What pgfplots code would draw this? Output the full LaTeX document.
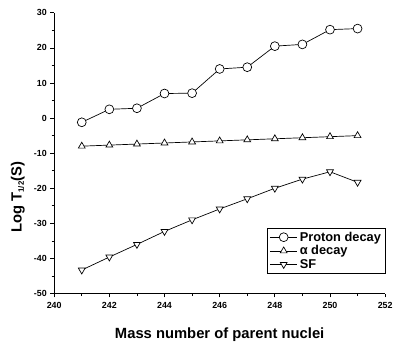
\documentclass[border=0pt]{standalone}
\usepackage{pgfplots}
\pgfplotsset{compat=1.18}
\usepackage{fontspec}
\setmainfont{Liberation Sans}
\begin{document}
\begin{tikzpicture}
\begin{axis}[
  scale only axis,
  width=336pt, height=285pt,
  xmin=240, xmax=252, ymin=-50, ymax=30,
  axis x line*=bottom, axis y line*=left,
  axis line style={line width=0.8pt, -},
  xtick={240,242,...,252}, minor xtick={241,243,...,251},
  ytick={-50,-40,...,30}, minor ytick={-45,-35,...,25},
  tick align=outside, tick style={black, line width=0.8pt},
  major tick length=4pt, minor tick length=2.5pt,
  /pgf/number format/assume math mode=true,
  /pgf/number format/1000 sep={},
  tick label style={font=\bfseries\fontsize{9}{10}\selectfont},
  xticklabel style={yshift=-1pt},
  xlabel={\bfseries\fontsize{15}{17}\selectfont Mass number of parent nuclei},
  ylabel={\bfseries\fontsize{15}{17}\selectfont Log T\textsubscript{\fontsize{8}{9}\selectfont 1/2}(S)},
  xlabel style={yshift=-13pt},
  ylabel style={at={(axis description cs:-0.078,0.47)}, anchor=south, xshift=-36pt},
  legend style={at={(1,0.07)}, anchor=south east, draw=black, line width=0.6pt,
    font=\bfseries\fontsize{13}{14}\selectfont, row sep=-1pt, inner sep=2pt},
  legend cell align=left,
  legend image code/.code={
    \draw[mark repeat=2,mark phase=2] plot coordinates {(0pt,0pt) (14pt,0pt) (28pt,0pt)};
  },
]
\addplot[black, line width=0.7pt, mark=*, mark size=4.5pt, mark options={fill=white, draw=black, solid}] coordinates {
(241,-1.2) (242,2.5) (243,2.8) (244,7.0) (245,7.1) (246,14.0) (247,14.5) (248,20.5) (249,21.0) (250,25.2) (251,25.5)};
\addlegendentry{Proton decay}
\addplot[black, line width=0.7pt, mark=triangle*, mark size=4pt, mark options={fill=white, draw=black, solid}] coordinates {
(241,-8.0) (242,-7.7) (243,-7.4) (244,-7.1) (245,-6.8) (246,-6.5) (247,-6.2) (248,-5.9) (249,-5.6) (250,-5.3) (251,-5.0)};
\addlegendentry{α decay}
\addplot[black, line width=0.7pt, mark=triangle*, mark size=4pt, mark options={fill=white, draw=black, solid, rotate=180}] coordinates {
(241,-43.3) (242,-39.6) (243,-36.0) (244,-32.3) (245,-29.0) (246,-25.9) (247,-23.0) (248,-20.0) (249,-17.4) (250,-15.3) (251,-18.3)};
\addlegendentry{SF}
\end{axis}
\pgfresetboundingbox
\path (current axis.south west) ++(-55pt,-49pt) coordinate (bl);
\path (current axis.north east) ++(11pt,13pt) coordinate (tr);
\path (bl) rectangle (tr);
\end{tikzpicture}
\end{document}
